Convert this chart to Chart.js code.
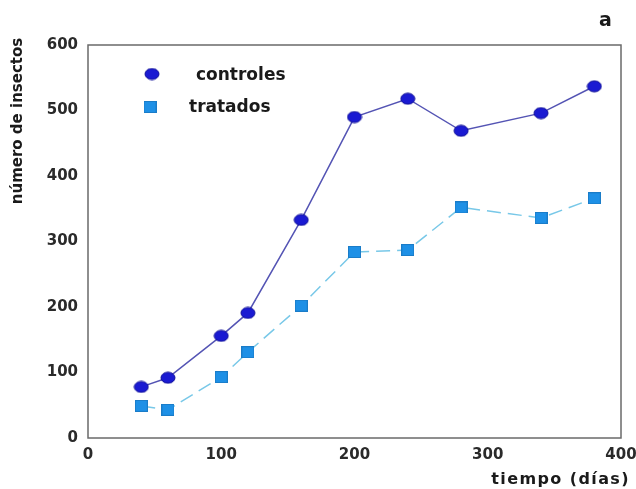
<!DOCTYPE html>
<html>
<head>
<meta charset="utf-8">
<script src="https://cdn.jsdelivr.net/npm/chart.js@4.4.1/dist/chart.umd.min.js"></script>
<style>
html,body{margin:0;padding:0;background:#fff;}
canvas{display:block;}
</style>
</head>
<body>
<canvas id="c" width="636" height="489"></canvas>
<script>
// ---- data ----
const days = [40, 60, 100, 120, 160, 200, 240, 280, 340, 380];
const controles = [78, 92, 156, 191, 333, 490, 518, 469, 496, 537];
const tratados = [49, 43, 93, 131, 202, 284, 287, 352, 336, 366];
const xTickValues = [0, 100, 200, 300, 400];
const yTickValues = [0, 100, 200, 300, 400, 500, 600];
const seriesNames = ['controles', 'tratados'];
const xTitle = 'tiempo (días)';
const yTitle = 'número de insectos';
const panelLabel = 'a';

const FONT = '"DejaVu Sans", sans-serif';

function makeEllipse(w, h, fill, stroke) {
  const c = document.createElement('canvas');
  c.width = w + 2; c.height = h + 2;
  const g = c.getContext('2d');
  g.beginPath();
  g.ellipse(c.width / 2, c.height / 2, w / 2, h / 2, 0, 0, Math.PI * 2);
  g.fillStyle = fill; g.fill();
  g.lineWidth = 1; g.strokeStyle = stroke; g.stroke();
  return c;
}
function makeRect(w, h, fill, stroke) {
  const c = document.createElement('canvas');
  c.width = w; c.height = h;
  const g = c.getContext('2d');
  g.fillStyle = fill; g.fillRect(0, 0, w, h);
  g.strokeStyle = stroke; g.lineWidth = 1; g.strokeRect(0.5, 0.5, w - 1, h - 1);
  return c;
}
const circleImg = makeEllipse(14, 11, '#1a1ad2', '#0c0c96');
const squareImg = makeRect(13, 12, '#1e90e6', '#1a7cc8');

const decor = {
  id: 'decor',
  afterDraw(chart) {
    const ctx = chart.ctx, a = chart.chartArea;
    ctx.save();
    // box around plot
    ctx.strokeStyle = '#6a6a6a';
    ctx.lineWidth = 1.5;
    ctx.strokeRect(a.left, a.top, a.right - a.left, a.bottom - a.top);
    // legend
    ctx.drawImage(circleImg, 152 - circleImg.width / 2, 74 - circleImg.height / 2);
    ctx.drawImage(squareImg, 150 - squareImg.width / 2, 107 - squareImg.height / 2);
    ctx.fillStyle = '#1a1a1a';
    ctx.font = 'bold 17px ' + FONT;
    ctx.textBaseline = 'middle';
    ctx.textAlign = 'left';
    ctx.fillText(seriesNames[0], 196, 76);
    ctx.fillText(seriesNames[1], 189, 108);
    // panel label
    ctx.font = 'bold 19px ' + FONT;
    ctx.fillText(panelLabel, 599, 21);
    // x title
    ctx.font = 'bold 16px ' + FONT;
    ctx.letterSpacing = '1.4px';
    ctx.textAlign = 'right';
    ctx.fillText(xTitle, 630, 480);
    // y title
    ctx.letterSpacing = '0px';
    ctx.translate(18, 121);
    ctx.rotate(-Math.PI / 2);
    ctx.textAlign = 'center';
    ctx.font = 'bold 15px ' + FONT;
    ctx.fillText(yTitle, 0, 0);
    ctx.restore();
  }
};

new Chart(document.getElementById('c'), {
  type: 'line',
  data: {
    datasets: [
      {
        label: seriesNames[0],
        data: days.map((d, i) => ({ x: d, y: controles[i] })),
        borderColor: '#5454b4',
        borderWidth: 1.5,
        pointStyle: circleImg,
        pointRadius: 7,
        tension: 0,
        order: 1
      },
      {
        label: seriesNames[1],
        data: days.map((d, i) => ({ x: d, y: tratados[i] })),
        borderColor: '#78c8e8',
        borderWidth: 1.5,
        borderDash: [14, 7],
        pointStyle: squareImg,
        pointRadius: 7,
        tension: 0,
        order: 2
      }
    ]
  },
  options: {
    responsive: false,
    devicePixelRatio: 1,
    animation: false,
    layout: { padding: { top: 45, right: 15, left: 0, bottom: 0 } },
    plugins: { legend: { display: false }, tooltip: { enabled: false } },
    scales: {
      x: {
        type: 'linear',
        min: 0, max: 400,
        afterBuildTicks: s => { s.ticks = xTickValues.map(v => ({ value: v })); },
        afterFit: s => { s.height = 51; s.paddingRight = 0; s.paddingLeft = 0; },
        grid: { display: false, drawTicks: false },
        border: { display: false },
        ticks: { padding: 8, color: '#2a2a2a', font: { family: FONT, size: 15, weight: 'bold' }, maxRotation: 0 }
      },
      y: {
        type: 'linear',
        min: 0, max: 600,
        afterBuildTicks: s => { s.ticks = yTickValues.map(v => ({ value: v })); },
        afterFit: s => { s.width = 88; },
        grid: { display: false, drawTicks: false },
        border: { display: false },
        ticks: { padding: 10, color: '#2a2a2a', font: { family: FONT, size: 15, weight: 'bold' } }
      }
    }
  },
  plugins: [decor]
});
</script>
</body>
</html>
